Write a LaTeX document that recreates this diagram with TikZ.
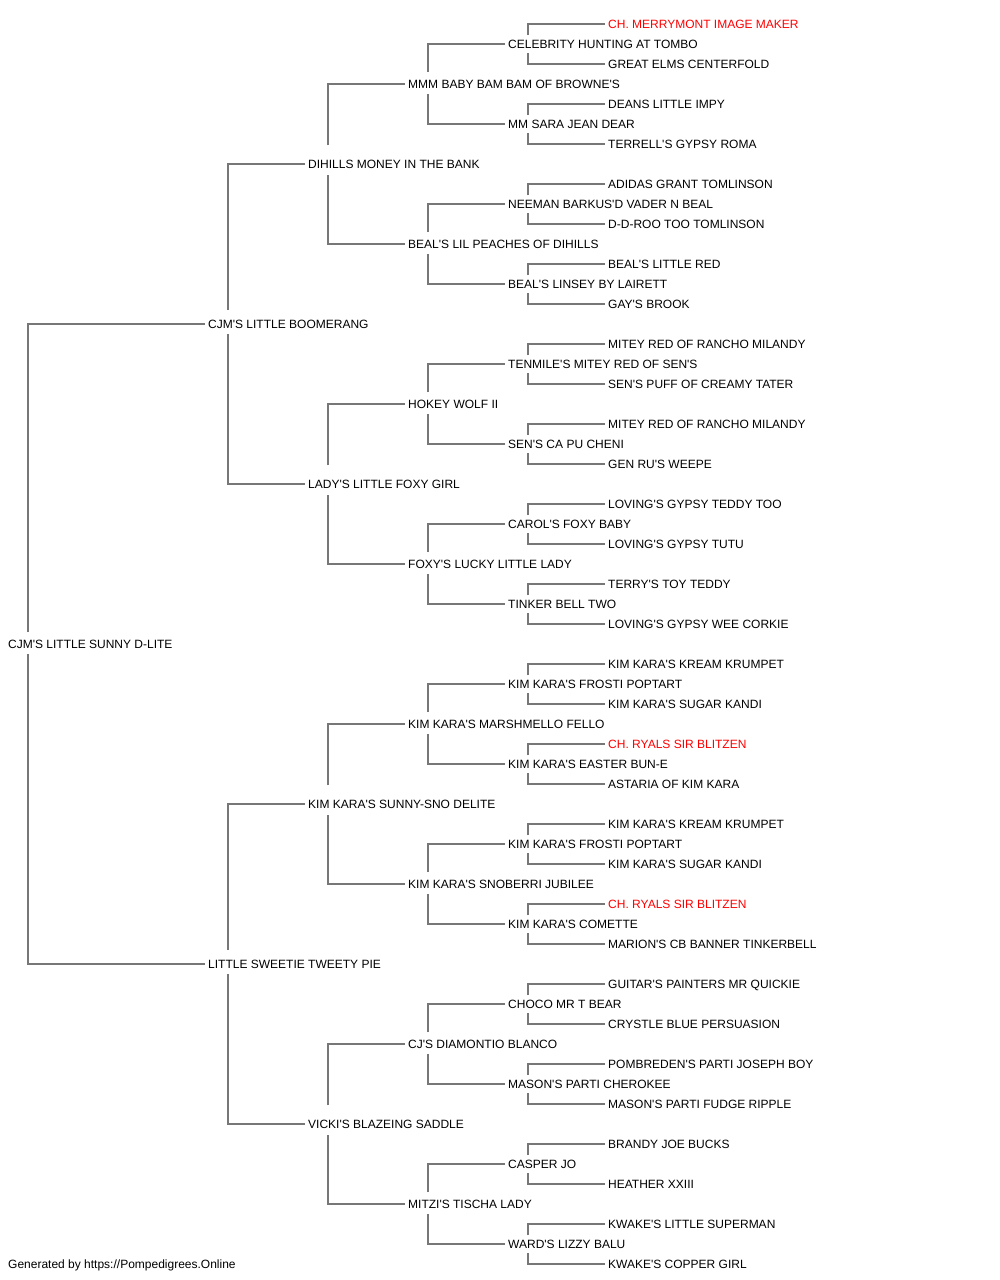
\documentclass[tikz,border=0pt]{standalone}
\usepackage{fontspec}
\setmainfont{Liberation Sans}[Ligatures=TeXOff]
\definecolor{linegray}{HTML}{777777}
\definecolor{champred}{HTML}{FF0000}
\begin{document}
\begin{tikzpicture}[x=1pt,y=-1pt,
  pname/.style={anchor=west, inner sep=0pt, text height=8.6pt, text depth=0pt, font=\fontsize{12}{14}\selectfont},
  champ/.style={pname, text=champred},
  conn/.style={draw=linegray, line width=1.3pt},
  foot/.style={anchor=base west, inner sep=0pt, font=\fontsize{12}{14}\selectfont}]
\fill[white] (0,0) rectangle (1000,1280);
\useasboundingbox (0,0) rectangle (1000,1280);
% generation 5 (even indices)
\node[champ] (n0) at (608,24) {CH. MERRYMONT IMAGE MAKER};
\node[pname] (n2) at (608,64) {GREAT ELMS CENTERFOLD};
\node[pname] (n4) at (608,104) {DEANS LITTLE IMPY};
\node[pname] (n6) at (608,144) {TERRELL'S GYPSY ROMA};
\node[pname] (n8) at (608,184) {ADIDAS GRANT TOMLINSON};
\node[pname] (n10) at (608,224) {D-D-ROO TOO TOMLINSON};
\node[pname] (n12) at (608,264) {BEAL'S LITTLE RED};
\node[pname] (n14) at (608,304) {GAY'S BROOK};
\node[pname] (n16) at (608,344) {MITEY RED OF RANCHO MILANDY};
\node[pname] (n18) at (608,384) {SEN'S PUFF OF CREAMY TATER};
\node[pname] (n20) at (608,424) {MITEY RED OF RANCHO MILANDY};
\node[pname] (n22) at (608,464) {GEN RU'S WEEPE};
\node[pname] (n24) at (608,504) {LOVING'S GYPSY TEDDY TOO};
\node[pname] (n26) at (608,544) {LOVING'S GYPSY TUTU};
\node[pname] (n28) at (608,584) {TERRY'S TOY TEDDY};
\node[pname] (n30) at (608,624) {LOVING'S GYPSY WEE CORKIE};
\node[pname] (n32) at (608,664) {KIM KARA'S KREAM KRUMPET};
\node[pname] (n34) at (608,704) {KIM KARA'S SUGAR KANDI};
\node[champ] (n36) at (608,744) {CH. RYALS SIR BLITZEN};
\node[pname] (n38) at (608,784) {ASTARIA OF KIM KARA};
\node[pname] (n40) at (608,824) {KIM KARA'S KREAM KRUMPET};
\node[pname] (n42) at (608,864) {KIM KARA'S SUGAR KANDI};
\node[champ] (n44) at (608,904) {CH. RYALS SIR BLITZEN};
\node[pname] (n46) at (608,944) {MARION'S CB BANNER TINKERBELL};
\node[pname] (n48) at (608,984) {GUITAR'S PAINTERS MR QUICKIE};
\node[pname] (n50) at (608,1024) {CRYSTLE BLUE PERSUASION};
\node[pname] (n52) at (608,1064) {POMBREDEN'S PARTI JOSEPH BOY};
\node[pname] (n54) at (608,1104) {MASON'S PARTI FUDGE RIPPLE};
\node[pname] (n56) at (608,1144) {BRANDY JOE BUCKS};
\node[pname] (n58) at (608,1184) {HEATHER XXIII};
\node[pname] (n60) at (608,1224) {KWAKE'S LITTLE SUPERMAN};
\node[pname] (n62) at (608,1264) {KWAKE'S COPPER GIRL};
% generation 4
\node[pname] (n1) at (508,44) {CELEBRITY HUNTING AT TOMBO};
\node[pname] (n5) at (508,124) {MM SARA JEAN DEAR};
\node[pname] (n9) at (508,204) {NEEMAN BARKUS'D VADER N BEAL};
\node[pname] (n13) at (508,284) {BEAL'S LINSEY BY LAIRETT};
\node[pname] (n17) at (508,364) {TENMILE'S MITEY RED OF SEN'S};
\node[pname] (n21) at (508,444) {SEN'S CA PU CHENI};
\node[pname] (n25) at (508,524) {CAROL'S FOXY BABY};
\node[pname] (n29) at (508,604) {TINKER BELL TWO};
\node[pname] (n33) at (508,684) {KIM KARA'S FROSTI POPTART};
\node[pname] (n37) at (508,764) {KIM KARA'S EASTER BUN-E};
\node[pname] (n41) at (508,844) {KIM KARA'S FROSTI POPTART};
\node[pname] (n45) at (508,924) {KIM KARA'S COMETTE};
\node[pname] (n49) at (508,1004) {CHOCO MR T BEAR};
\node[pname] (n53) at (508,1084) {MASON'S PARTI CHEROKEE};
\node[pname] (n57) at (508,1164) {CASPER JO};
\node[pname] (n61) at (508,1244) {WARD'S LIZZY BALU};
% generation 3
\node[pname] (n3) at (408,84) {MMM BABY BAM BAM OF BROWNE'S};
\node[pname] (n11) at (408,244) {BEAL'S LIL PEACHES OF DIHILLS};
\node[pname] (n19) at (408,404) {HOKEY WOLF II};
\node[pname] (n27) at (408,564) {FOXY'S LUCKY LITTLE LADY};
\node[pname] (n35) at (408,724) {KIM KARA'S MARSHMELLO FELLO};
\node[pname] (n43) at (408,884) {KIM KARA'S SNOBERRI JUBILEE};
\node[pname] (n51) at (408,1044) {CJ'S DIAMONTIO BLANCO};
\node[pname] (n59) at (408,1204) {MITZI'S TISCHA LADY};
% generation 2
\node[pname] (n7) at (308,164) {DIHILLS MONEY IN THE BANK};
\node[pname] (n23) at (308,484) {LADY'S LITTLE FOXY GIRL};
\node[pname] (n39) at (308,804) {KIM KARA'S SUNNY-SNO DELITE};
\node[pname] (n55) at (308,1124) {VICKI'S BLAZEING SADDLE};
% generation 1
\node[pname] (n15) at (208,324) {CJM'S LITTLE BOOMERANG};
\node[pname] (n47) at (208,964) {LITTLE SWEETIE TWEETY PIE};
% generation 0
\node[pname] (n31) at (8,644) {CJM'S LITTLE SUNNY D-LITE};
% footer
\node[foot] (footer) at (8,1268.5) {Generated by https://Pompedigrees.Online};
% connectors: parent/sire/dam/gap above/gap below
\foreach \p/\s/\d/\ga/\gb in {
  31/15/47/12/10,
  15/7/23/14/10, 47/39/55/14/10,
  7/3/11/19/11, 23/19/27/19/11, 39/35/43/19/11, 55/51/59/19/11,
  3/1/5/12/10, 11/9/13/12/10, 19/17/21/12/10, 27/25/29/12/10,
  35/33/37/12/10, 43/41/45/12/10, 51/49/53/12/10, 59/57/61/12/10,
  1/0/2/9/9, 5/4/6/9/9, 9/8/10/9/9, 13/12/14/9/9,
  17/16/18/9/9, 21/20/22/9/9, 25/24/26/9/9, 29/28/30/9/9,
  33/32/34/9/9, 37/36/38/9/9, 41/40/42/9/9, 45/44/46/9/9,
  49/48/50/9/9, 53/52/54/9/9, 57/56/58/9/9, 61/60/62/9/9}{
  \draw[conn] ([xshift=20pt,yshift=\ga pt]n\p.west) |- ([xshift=-3pt]n\s.west);
  \draw[conn] ([xshift=20pt,yshift=-\gb pt]n\p.west) |- ([xshift=-3pt]n\d.west);
}
\end{tikzpicture}
\end{document}
